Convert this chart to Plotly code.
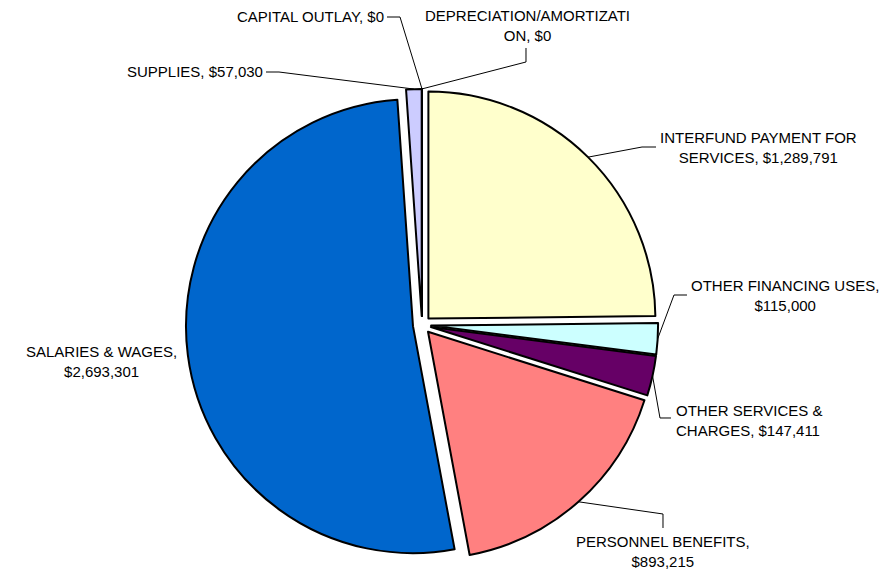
import math
import plotly.graph_objects as go

# Expenditure categories, clockwise from 12 o'clock
categories = [
    "DEPRECIATION/AMORTIZATION",
    "INTERFUND PAYMENT FOR SERVICES",
    "OTHER FINANCING USES",
    "OTHER SERVICES & CHARGES",
    "PERSONNEL BENEFITS",
    "SALARIES & WAGES",
    "SUPPLIES",
    "CAPITAL OUTLAY",
]
amounts = [0, 1289791, 115000, 147411, 893215, 2693301, 57030, 0]
slice_colors = ["#9999FF", "#FFFFCC", "#CCFFFF", "#660066",
                "#FF8080", "#0066CC", "#CCCCFF", "#993366"]

W, H = 890, 574
CX, CY = 422, 325          # pie centre, px
RADIUS = 227               # pie radius, px
PULL = 0.04                # explode fraction

box = 2 * RADIUS * (1 + PULL)
dom_x = [(CX - box / 2) / W, (CX + box / 2) / W]
dom_y = [1 - (CY + box / 2) / H, 1 - (CY - box / 2) / H]

total = sum(amounts)


def fmt(v):
    return "${:,.0f}".format(v)


def arc_point(i):
    """Point on the outer edge of exploded slice i, at its mid angle."""
    before = sum(amounts[:i])
    frac = (before + amounts[i] / 2) / total
    a = 2 * math.pi * frac
    rr = RADIUS * (1 + PULL)
    return CX + rr * math.sin(a), CY - rr * math.cos(a)


def px(x, y):
    return x / W, 1 - y / H


fig = go.Figure(go.Pie(
    labels=categories,
    values=amounts,
    sort=False,
    direction="clockwise",
    rotation=0,
    pull=PULL,
    marker=dict(colors=slice_colors, line=dict(color="#000000", width=2)),
    textinfo="none",
    hoverinfo="label+value",
    showlegend=False,
    domain=dict(x=dom_x, y=dom_y),
))

# label text, anchor position (px), alignment, leader elbow points (px)
label_specs = {
    "DEPRECIATION/AMORTIZATION": dict(
        text="DEPRECIATION/AMORTIZATI<br>ON, " + fmt(amounts[0]),
        pos=(527, 26), xanchor="center", align="center",
        leader=[(526, 48), (526, 62)]),
    "CAPITAL OUTLAY": dict(text="CAPITAL OUTLAY, " + fmt(amounts[7]),
                           pos=(386, 17), xanchor="right", align="right",
                           leader=[(387, 17), (400, 17)]),
    "SUPPLIES": dict(text="SUPPLIES, " + fmt(amounts[6]),
                     pos=(265, 72), xanchor="right", align="right",
                     leader=[(266, 72), (279, 72)]),
    "INTERFUND PAYMENT FOR SERVICES": dict(
        text="INTERFUND PAYMENT FOR<br>SERVICES, " + fmt(amounts[1]),
        pos=(758, 147), xanchor="center", align="center",
        leader=[(656, 147), (642, 147)]),
    "OTHER FINANCING USES": dict(
        text="OTHER FINANCING USES,<br>" + fmt(amounts[2]),
        pos=(785, 295), xanchor="center", align="center",
        leader=[(687, 295), (674, 295)]),
    "OTHER SERVICES & CHARGES": dict(
        text="OTHER SERVICES &<br>CHARGES, " + fmt(amounts[3]),
        pos=(674, 420), xanchor="left", align="left",
        leader=[(671, 418), (660, 418)]),
    "PERSONNEL BENEFITS": dict(
        text="PERSONNEL BENEFITS,<br>" + fmt(amounts[4]),
        pos=(663, 551), xanchor="center", align="center",
        leader=[(663, 528), (663, 514)]),
    "SALARIES & WAGES": dict(
        text="SALARIES & WAGES,<br>" + fmt(amounts[5]),
        pos=(101, 361), xanchor="center", align="center",
        leader=None),
}

font = dict(family="Liberation Sans, Arial, sans-serif", size=15, color="#000000")
annotations = []
shapes = []

for i, cat in enumerate(categories):
    spec = label_specs[cat]
    ax, ay = px(*spec["pos"])
    annotations.append(dict(x=ax, y=ay, xref="paper", yref="paper",
                            text=spec["text"], showarrow=False,
                            xanchor=spec["xanchor"], yanchor="middle",
                            align=spec["align"], font=font))
    if spec["leader"] is None:
        continue
    pts = spec["leader"] + [arc_point(i)]
    path = ""
    for k, (x, y) in enumerate(pts):
        u, v = px(x, y)
        path += ("M" if k == 0 else "L") + " {:.5f},{:.5f} ".format(u, v)
    shapes.append(dict(type="path", path=path.strip(), xref="paper", yref="paper",
                       line=dict(color="#000000", width=1)))

fig.update_layout(
    width=W, height=H,
    margin=dict(l=0, r=0, t=0, b=0),
    paper_bgcolor="#FFFFFF",
    plot_bgcolor="#FFFFFF",
    annotations=annotations,
    shapes=shapes,
)

fig.write_html("out.html")
